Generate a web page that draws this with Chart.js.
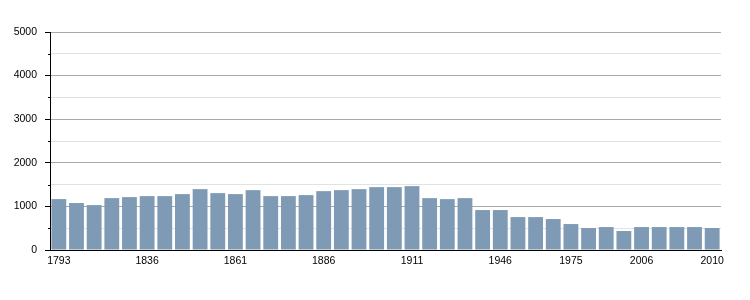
<!DOCTYPE html>
<html>
<head>
<meta charset="utf-8">
<script src="https://cdn.jsdelivr.net/npm/chart.js@4.4.1/dist/chart.umd.min.js"></script>
<style>
html,body{margin:0;padding:0;background:#fff;}
#wrap{width:750px;height:300px;position:relative;}
</style>
</head>
<body>
<div id="wrap"><canvas id="c" width="750" height="300"></canvas></div>
<script>
const years = ['1793','1800','1806','1821','1831','1836','1841','1846','1851','1856','1861','1866','1872','1876','1881','1886','1891','1896','1901','1906','1911','1921','1926','1931','1936','1946','1954','1962','1968','1975','1982','1990','1999','2006','2007','2008','2009','2010'];
const population = [1168,1077,1030,1190,1213,1236,1236,1282,1396,1305,1282,1373,1236,1236,1259,1350,1373,1396,1442,1442,1465,1190,1167,1190,916,916,755,755,710,595,504,526,435,526,526,526,526,504];
const shownLabels = ['1793','1836','1861','1886','1911','1946','1975','2006','2010'];
const yTicksMajor = [0,1000,2000,3000,4000,5000];

const minorTicks = {
  id:'minorTicks',
  afterDraw(chart){
    const y = chart.scales.y, ctx = chart.ctx;
    ctx.save();
    ctx.strokeStyle = '#000';
    ctx.lineWidth = 1;
    for(let v=500; v<5000; v+=1000){
      const py = Math.round(y.getPixelForValue(v)) + 0.5;
      ctx.beginPath();
      ctx.moveTo(y.right-2, py);
      ctx.lineTo(y.right, py);
      ctx.stroke();
    }
    ctx.restore();
  }
};

new Chart(document.getElementById('c'), {
  type:'bar',
  data:{
    labels: years,
    datasets:[{
      data: population,
      backgroundColor:'#7f9ab4',
      borderWidth:0,
      barPercentage:0.84,
      categoryPercentage:1.0
    }]
  },
  options:{
    responsive:false,
    animation:false,
    layout:{padding:{top:32,right:29,left:0,bottom:0}},
    plugins:{legend:{display:false},tooltip:{enabled:false}},
    scales:{
      x:{
        grid:{display:false, drawTicks:false},
        border:{display:true,color:'#000',width:1},
        ticks:{
          autoSkip:false, maxRotation:0, minRotation:0, padding:5,
          color:'#000',
          font:{family:'"Liberation Sans", Arial, sans-serif', size:10.5},
          callback(v, i){ const l = years[i]; return shownLabels.includes(l) ? l : ''; }
        },
        afterFit(s){ s.height = 50; }
      },
      y:{
        min:0, max:5000,
        grid:{
          color(ctx){ return (ctx.tick && ctx.tick.value % 1000 === 0) ? '#aaaaaa' : '#e2e2e2'; },
          tickColor(ctx){ return (ctx.tick && ctx.tick.value % 1000 === 0) ? '#000' : 'rgba(0,0,0,0)'; },
          tickLength:5,
          drawTicks:true
        },
        border:{display:true,color:'#000',width:1},
        ticks:{
          stepSize:500, padding:8, color:'#000',
          font:{family:'"Liberation Sans", Arial, sans-serif', size:10.5},
          callback(v){ return yTicksMajor.includes(v) ? String(v) : ''; }
        },
        afterFit(s){ s.width = 50; }
      }
    }
  },
  plugins:[minorTicks]
});
</script>
</body>
</html>
